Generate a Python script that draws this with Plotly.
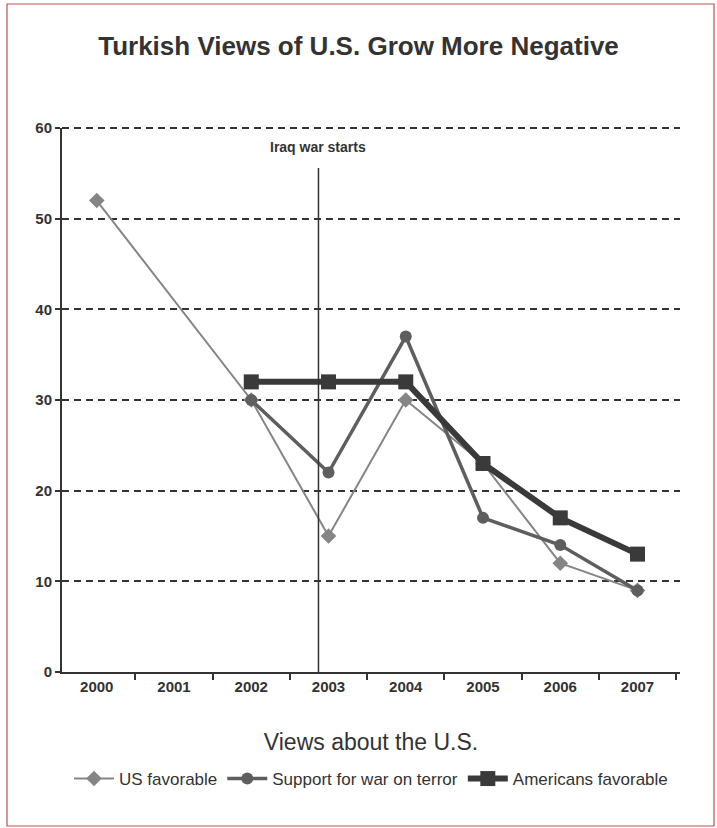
import plotly.graph_objects as go

years = [2000, 2001, 2002, 2003, 2004, 2005, 2006, 2007]
year_labels = [str(y) for y in years]

us_fav_years = [2000, 2002, 2003, 2004, 2005, 2006, 2007]
us_favorable = [52, 30, 15, 30, 23, 12, 9]

war_years = [2002, 2003, 2004, 2005, 2006, 2007]
support_war_on_terror = [30, 22, 37, 17, 14, 9]

amer_years = [2002, 2003, 2004, 2005, 2006, 2007]
americans_favorable = [32, 32, 32, 23, 17, 13]

y_ticks = [0, 10, 20, 30, 40, 50, 60]
iraq_war_x = 2002.87
iraq_line_top = 55.6

FONT = "Liberation Sans, Arial, sans-serif"
DASH = "7px,5px"

fig = go.Figure()
fig.add_trace(go.Scatter(
    x=us_fav_years, y=us_favorable, name="US favorable", mode="lines+markers",
    line=dict(color="#858585", width=2),
    marker=dict(symbol="diamond", size=12, color="#858585")))
fig.add_trace(go.Scatter(
    x=war_years, y=support_war_on_terror, name="Support for war on terror", mode="lines+markers",
    line=dict(color="#5e5e5e", width=3.5),
    marker=dict(symbol="circle", size=12, color="#5e5e5e")))
fig.add_trace(go.Scatter(
    x=amer_years, y=americans_favorable, name="Americans favorable", mode="lines+markers",
    line=dict(color="#3a3a3a", width=6),
    marker=dict(symbol="square", size=15, color="#3a3a3a")))

fig.add_shape(type="line", xref="x", yref="y", x0=iraq_war_x, x1=iraq_war_x,
              y0=0, y1=iraq_line_top, line=dict(color="#333333", width=1.5), layer="above")
fig.add_annotation(x=iraq_war_x, y=57.9, xref="x", yref="y", text="<b>Iraq war starts</b>",
                   showarrow=False, font=dict(family=FONT, size=14, color="#333333"))

# top gridline (plotly omits the one at the range edge)
fig.add_shape(type="line", xref="paper", yref="paper", x0=0, x1=1, y0=1, y1=1,
              line=dict(color="#333333", width=2, dash=DASH), layer="below")

# page border from the scan
fig.add_shape(type="rect", xref="paper", yref="paper",
              x0=(7 - 62) / 618, x1=(714 - 62) / 618,
              y0=(672 - 826) / 544, y1=(672 - 4) / 544,
              line=dict(color="#c0504d", width=1.2))

fig.update_layout(
    width=717, height=828,
    paper_bgcolor="white", plot_bgcolor="white",
    margin=dict(l=62, r=37, t=128, b=156),
    title=dict(text="<b>Turkish Views of U.S. Grow More Negative</b>", x=0.5, xanchor="center",
               y=1 - 46 / 828, yanchor="middle",
               font=dict(family=FONT, size=26, color="#333333")),
    font=dict(family=FONT, color="#333333"),
    showlegend=True,
    legend=dict(orientation="h", x=0.5, xanchor="center", y=(672 - 779) / 544, yanchor="middle",
                font=dict(family=FONT, size=17, color="#333333"), itemwidth=40,
                bgcolor="rgba(0,0,0,0)"),
)

fig.update_xaxes(
    range=[1999.55, 2007.55], tickvals=years, ticktext=[f"<b>{t}</b>" for t in year_labels],
    ticks="", showgrid=False, zeroline=False,
    showline=True, linecolor="#333333", linewidth=2,
    tickfont=dict(family=FONT, size=15, color="#333333"),
    minor=dict(tickvals=[y - 0.5 for y in years] + [2007.5], ticks="outside", ticklen=6,
               tickwidth=2, tickcolor="#333333", showgrid=False),
    title=dict(text="Views about the U.S.", font=dict(family=FONT, size=23, color="#333333"),
               standoff=40),
)
fig.update_yaxes(
    range=[0, 60], tickvals=y_ticks, ticktext=[f"<b>{v}</b>" for v in y_ticks],
    ticks="outside", ticklen=5, tickwidth=2, tickcolor="#333333",
    showgrid=True, gridcolor="#333333", gridwidth=2, griddash=DASH,
    zeroline=False, showline=True, linecolor="#333333", linewidth=2,
    tickfont=dict(family=FONT, size=15, color="#333333"),
)

fig.write_html("out.html", config={"displayModeBar": False},
               post_script="document.body.style.margin='0';")
